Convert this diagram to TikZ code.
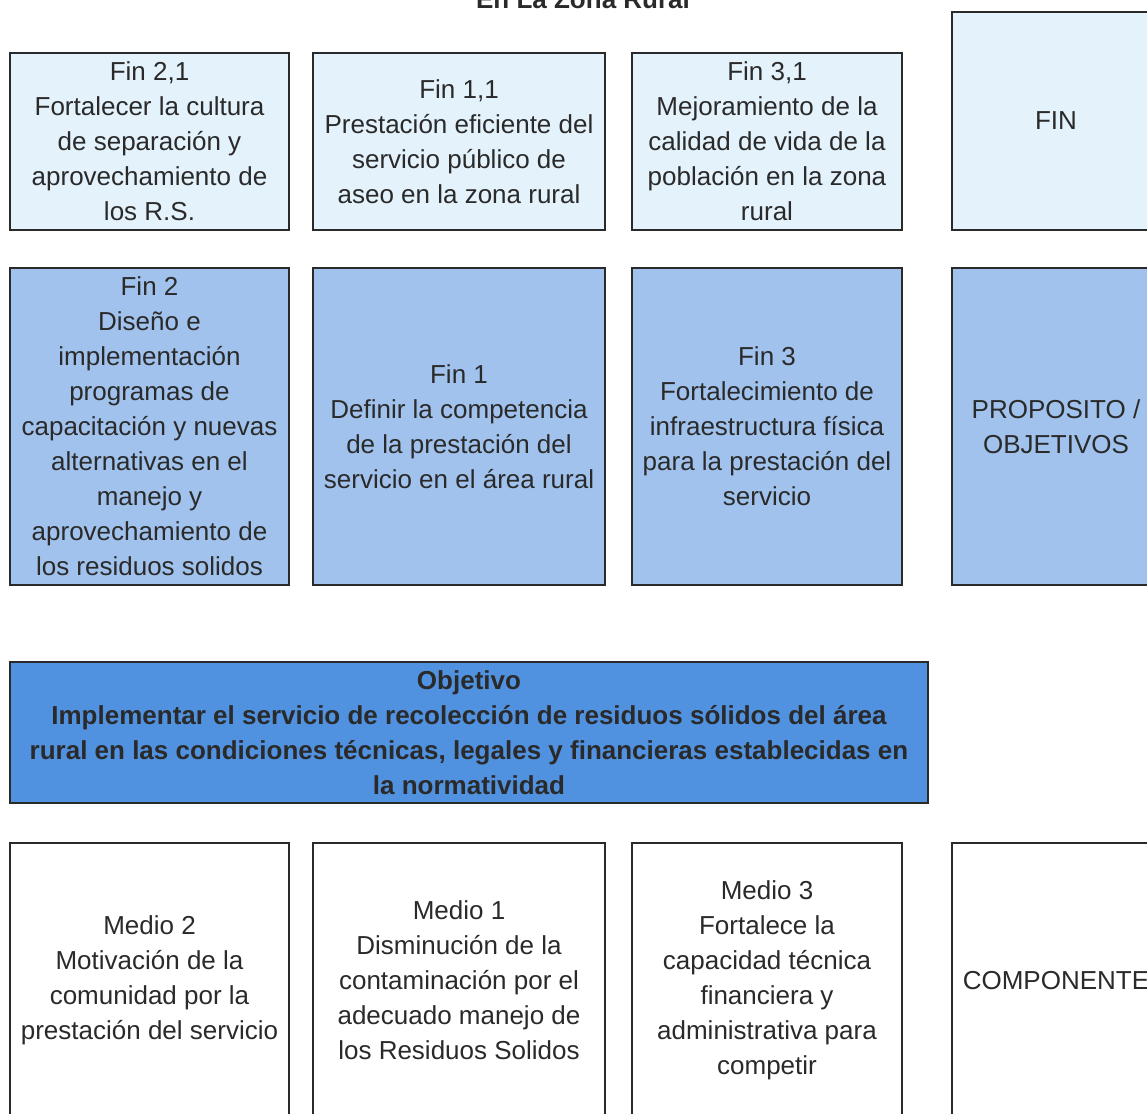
\documentclass[tikz,border=0pt]{standalone}
\usepackage{fontspec}
\setmainfont{Liberation Sans}
\usetikzlibrary{positioning}
\definecolor{finlight}{RGB}{228,242,251}
\definecolor{finmid}{RGB}{160,194,236}
\definecolor{objdark}{RGB}{80,146,224}
\definecolor{boxink}{HTML}{2A2A2A}

\begin{document}
\begin{tikzpicture}[
  x=0.5pt,
  y=-0.5pt,
  every node/.style={font=\fontsize{13}{17.5}\selectfont, text=boxink,
                     align=center, inner sep=0pt},
  cell/.style={draw=boxink, line width=0.8pt},
  rowfin/.style={cell, fill=finlight, minimum height=88.5pt},
  rowprop/.style={cell, fill=finmid, minimum height=158.5pt},
  rowmedio/.style={cell, fill=white, minimum height=137.5pt},
  colA/.style={minimum width=139.5pt},
  colB/.style={minimum width=146pt},
  colC/.style={minimum width=135pt},
  colD/.style={minimum width=104pt}
]
  \clip (0,0) rectangle (1147,1114);
  \useasboundingbox (0,0) rectangle (1147,1114);

  % ---- title (cut by the page edge) ----
  \node[anchor=base, font=\fontsize{13}{14}\bfseries] (title) at (583,8)
    {En La Zona Rural};

  % ---- fines ----
  \node[rowfin, colA] (fintwoone) at (149.5,141.5)
    {Fin 2,1\\Fortalecer la cultura\\de separación y\\aprovechamiento de\\los R.S.};
  \node[rowfin, colB] (finoneone) at (459,141.5)
    {Fin 1,1\\Prestación eficiente del\\servicio público de\\aseo en la zona rural};
  \node[rowfin, colC] (finthreeone) at (767,141.5)
    {Fin 3,1\\Mejoramiento de la\\calidad de vida de la\\población en la zona\\rural};
  \node[rowfin, colD, minimum height=109pt] (finlabel) at (1056,121)
    {FIN};

  % ---- propositos ----
  \node[rowprop, colA] (fintwo) at (149.5,426.5)
    {Fin 2\\Diseño e\\implementación\\programas de\\capacitación y nuevas\\alternativas en el\\manejo y\\aprovechamiento de\\los residuos solidos};
  \node[rowprop, colB] (finone) at (459,426.5)
    {Fin 1\\Definir la competencia\\de la prestación del\\servicio en el área rural};
  \node[rowprop, colC] (finthree) at (767,426.5)
    {Fin 3\\Fortalecimiento de\\infraestructura física\\para la prestación del\\servicio};
  \node[rowprop, colD] (proplabel) at (1056,426.5)
    {PROPOSITO /\\OBJETIVOS};

  % ---- objetivo ----
  \node[cell, fill=objdark, minimum width=459pt, minimum height=70.5pt,
        font=\fontsize{13}{17.5}\bfseries] (objetivo) at (469,732.5)
    {Objetivo\\Implementar el servicio de recolección de residuos sólidos del área\\rural en las condiciones técnicas, legales y financieras establecidas en\\la normatividad};

  % ---- medios ----
  \node[rowmedio, colA] (mediotwo) at (149.5,980.5)
    {Medio 2\\Motivación de la\\comunidad por la\\prestación del servicio};
  \node[rowmedio, colB] (medioone) at (459,980.5)
    {Medio 1\\Disminución de la\\contaminación por el\\adecuado manejo de\\los Residuos Solidos};
  \node[rowmedio, colC] (mediothree) at (767,980.5)
    {Medio 3\\Fortalece la\\capacidad técnica\\financiera y\\administrativa para\\competir};
  \node[rowmedio, colD] (complabel) at (1056,980.5)
    {COMPONENTE};
\end{tikzpicture}
\end{document}
